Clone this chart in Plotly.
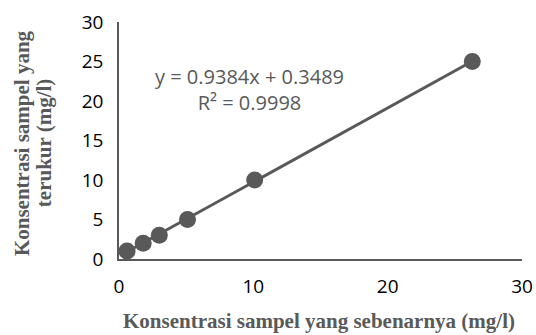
import plotly.graph_objects as go

x_actual = [0.6, 1.8, 3.0, 5.1, 10.1, 26.3]
y_measured = [1, 2, 3, 5, 10, 25]
slope = 0.9384
intercept = 0.3489
r2 = 0.9998
x_ticks = [0, 10, 20, 30]
y_ticks = [0, 5, 10, 15, 20, 25, 30]
x_title = "Konsentrasi sampel yang sebenarnya (mg/l)"
y_title_lines = ["Konsentrasi sampel yang", "terukur (mg/l)"]

gray = "#595959"
x_line = [min(x_actual), max(x_actual)]
y_line = [slope * v + intercept for v in x_line]

fig = go.Figure()
fig.add_trace(go.Scatter(x=x_line, y=y_line, mode="lines",
                         line=dict(color=gray, width=3), hoverinfo="skip"))
fig.add_trace(go.Scatter(x=x_actual, y=y_measured, mode="markers",
                         marker=dict(color=gray, size=17, line=dict(width=0))))

fig.add_annotation(x=9.68, y=21.4, xref="x", yref="y",
                   text=f"y = {slope}x + {intercept}<br>R² = {r2}",
                   showarrow=False, align="center",
                   font=dict(family="Open Sans", size=20, color=gray))

fig.add_annotation(x=0.496, y=-0.262, xref="paper", yref="paper",
                   text=f"<b>{x_title}</b>", showarrow=False,
                   xanchor="center", yanchor="middle",
                   font=dict(family="Liberation Serif", size=21, color=gray))
for xp, line in zip([-0.2407, -0.186], y_title_lines):
    fig.add_annotation(x=xp, y=0.489, xref="paper", yref="paper",
                       text=f"<b>{line}</b>", showarrow=False, textangle=-90,
                       xanchor="center", yanchor="middle",
                       font=dict(family="Liberation Serif", size=21, color=gray))

fig.update_layout(
    width=536, height=335, showlegend=False,
    paper_bgcolor="white", plot_bgcolor="white",
    margin=dict(l=119, r=14, t=22, b=76),
    font=dict(family="Open Sans", size=19, color="black"),
)
fig.update_xaxes(range=[0, 30], tickvals=x_ticks, showgrid=False, zeroline=False,
                 showline=True, linecolor=gray, linewidth=1.5, ticks="",
                 ticklabelstandoff=9, automargin=False)
fig.update_yaxes(range=[0, 30], tickvals=y_ticks, showgrid=False, zeroline=False,
                 showline=True, linecolor=gray, linewidth=1.5, ticks="",
                 ticklabelstandoff=10, automargin=False)

fig.write_html("out.html", config={"displayModeBar": False},
               post_script="document.body.style.margin='0';")
